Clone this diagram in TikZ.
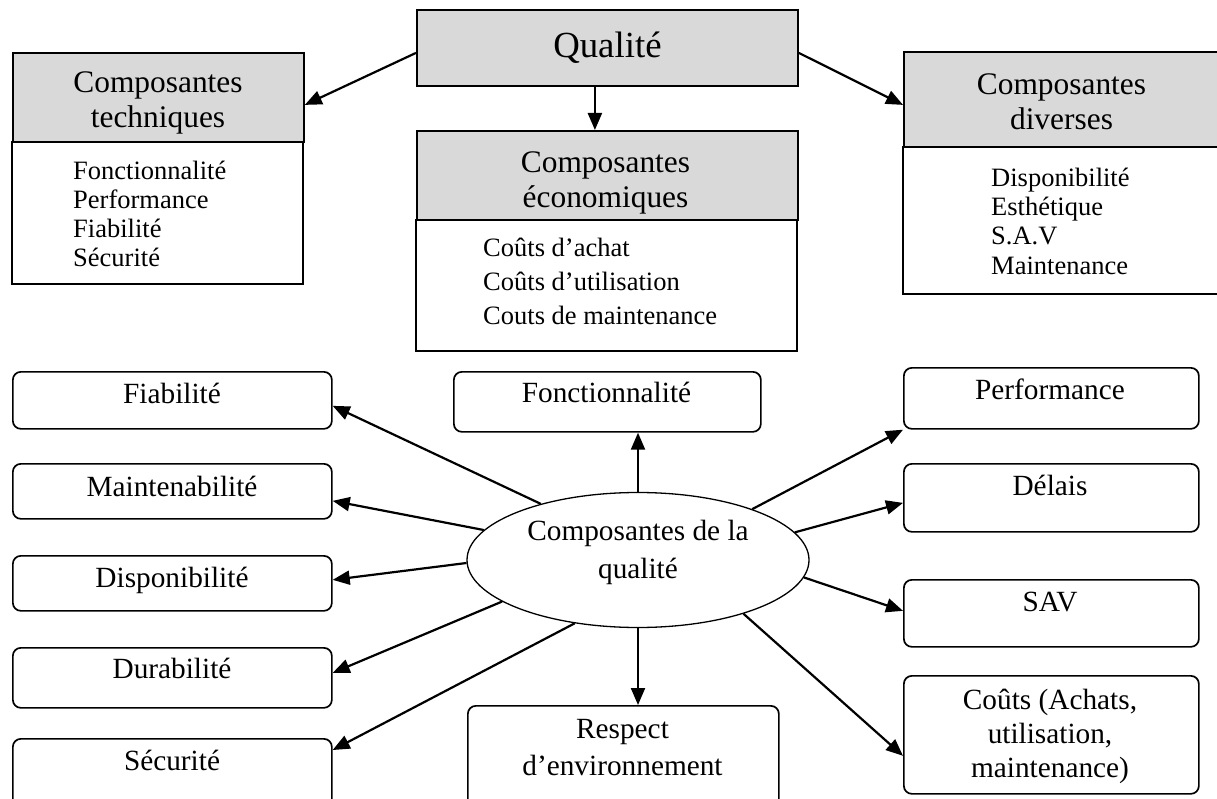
\documentclass[tikz,border=0pt]{standalone}
\usepackage{fontspec}
\setmainfont{Liberation Serif}
\usetikzlibrary{arrows.meta,shapes.geometric}
\definecolor{headgray}{HTML}{D9D9D9}

\begin{document}
\begin{tikzpicture}[x=1pt,y=-1pt,
  hdr/.style={draw, line width=1.8pt, fill=headgray, rectangle, inner sep=0pt, anchor=north west},
  hdrtxt/.style={inner sep=0pt, align=center, font=\fontsize{31.4pt}{35pt}\selectfont},
  bodybox/.style={draw, line width=1.8pt, fill=white, rectangle, inner sep=0pt, anchor=north},
  listtxt/.style={inner sep=0pt, anchor=west, align=left},
  rbox/.style={draw, line width=1.7pt, rounded corners=8pt, rectangle, inner sep=0pt, anchor=north west},
  lbl/.style={inner sep=0pt, align=center, font=\fontsize{29.3pt}{36pt}\selectfont},
  arr/.style={line width=2.2pt, -{Triangle[length=17pt,width=14pt]}}
]
\useasboundingbox (0,0) rectangle (1217,799);
\clip (0,0) rectangle (1217,799);

% --- top block: Qualite and its three families of components
\node[hdr, minimum width=381pt, minimum height=76pt, align=center,
      font=\fontsize{36.8pt}{42pt}\selectfont] (qual) at (416,9) {Qualité};

\node[bodybox, minimum width=291pt, minimum height=142pt] (techB) at (157.5,141) {};
\node[hdr, minimum width=291pt, minimum height=89pt] (techH) at (12,52) {};
\node[hdrtxt] (techT) at (158,103) {Composantes\\techniques};
\node[listtxt, font=\fontsize{26.5pt}{29pt}\selectfont] (techL) at (73,213.5)
  {Fonctionnalité\\Performance\\Fiabilité\\Sécurité};

\node[bodybox, minimum width=381pt, minimum height=131pt] (ecoB) at (606.5,219) {};
\node[hdr, minimum width=381pt, minimum height=89pt] (ecoH) at (416,130) {};
\node[hdrtxt] (ecoT) at (605.5,182.5) {Composantes\\économiques};
\node[listtxt, font=\fontsize{26.5pt}{34pt}\selectfont] (ecoL) at (483,281)
  {Coûts d’achat\\Coûts d’utilisation\\Couts de maintenance};

\node[bodybox, minimum width=330pt, minimum height=147pt] (divB) at (1068,146) {};
\node[hdr, minimum width=330pt, minimum height=95pt] (divH) at (903,51) {};
\node[hdrtxt] (divT) at (1061.5,102) {Composantes\\diverses};
\node[listtxt, font=\fontsize{26.5pt}{29.3pt}\selectfont] (divL) at (991,221)
  {Disponibilité\\Esthétique\\S.A.V\\Maintenance};

\draw[arr] ([yshift=-5pt]qual.west) -- ([yshift=-7.5pt]techH.east);
\draw[arr] ([yshift=-5pt]qual.east) -- ([yshift=-5.5pt]divH.west);
\draw[arr] ([xshift=-12.5pt]qual.south) -- ([xshift=-12.5pt]ecoH.north);

% --- bottom block: the components around the ellipse
\node[draw, ellipse, line width=1.3pt, minimum width=342pt, minimum height=135pt, inner sep=0pt] (ell) at (638,560) {};
\node[lbl, font=\fontsize{29.3pt}{38pt}\selectfont] (ellT) at (638,552) {Composantes de la\\qualité};

\node[rbox, minimum width=319pt, minimum height=57pt] (fia) at (12,371) {};
\node[lbl, anchor=base] (fiaT) at (172,403) {Fiabilité};
\node[rbox, minimum width=319pt, minimum height=55pt] (mai) at (12,463) {};
\node[lbl, anchor=base] (maiT) at (172,496) {Maintenabilité};
\node[rbox, minimum width=319pt, minimum height=55pt] (dis) at (12,555) {};
\node[lbl, anchor=base] (disT) at (172,587) {Disponibilité};
\node[rbox, minimum width=319pt, minimum height=60pt] (dur) at (12,647) {};
\node[lbl, anchor=base] (durT) at (172,678) {Durabilité};
\node[rbox, minimum width=319pt, minimum height=80pt] (sec) at (12,738) {};
\node[lbl, anchor=base] (secT) at (172,770) {Sécurité};

\node[rbox, minimum width=307pt, minimum height=60pt] (fon) at (453,371) {};
\node[lbl, anchor=base] (fonT) at (606.5,402) {Fonctionnalité};
\node[rbox, minimum width=311pt, minimum height=110pt] (res) at (467,705) {};
\node[lbl, font=\fontsize{29.3pt}{37pt}\selectfont] (resT) at (622.5,748) {Respect\\d’environnement};

\node[rbox, minimum width=295pt, minimum height=61pt] (perf) at (903,367) {};
\node[lbl, anchor=base] (perfT) at (1050,399) {Performance};
\node[rbox, minimum width=295pt, minimum height=68pt] (del) at (903,463) {};
\node[lbl, anchor=base] (delT) at (1050,495) {Délais};
\node[rbox, minimum width=295pt, minimum height=67pt] (sav) at (903,579) {};
\node[lbl, anchor=base] (savT) at (1050,611) {SAV};
\node[rbox, minimum width=295pt, minimum height=118pt] (cou) at (903,675) {};
\node[lbl, font=\fontsize{29.3pt}{34pt}\selectfont] (couT) at (1050,736) {Coûts (Achats,\\utilisation,\\maintenance)};

\draw[arr] (ell.north) -- (ell.north |- fon.south);
\draw[arr] (ell.south) -- (ell.south |- res.north);

\draw[arr] (ell.150) -- ([yshift=-5.5pt]fia.east);
\draw[arr] (ell.169) -- ([yshift=-9.5pt]mai.east);
\draw[arr] (ell.181) -- ([yshift=3.5pt]dis.east);
\draw[arr] (ell.197) -- ([yshift=5pt]dur.east);
\draw[arr] (ell.225) -- ([yshift=-12pt]sec.north east);

\draw[arr] (ell.24.5) -- (perf.south west);
\draw[arr] (ell.10.7) -- ([yshift=-5pt]del.west);
\draw[arr] (ell.-6) -- ([yshift=2.5pt]sav.west);
\draw[arr] (ell.-27) -- ([yshift=-21pt]cou.west);
\end{tikzpicture}
\end{document}
